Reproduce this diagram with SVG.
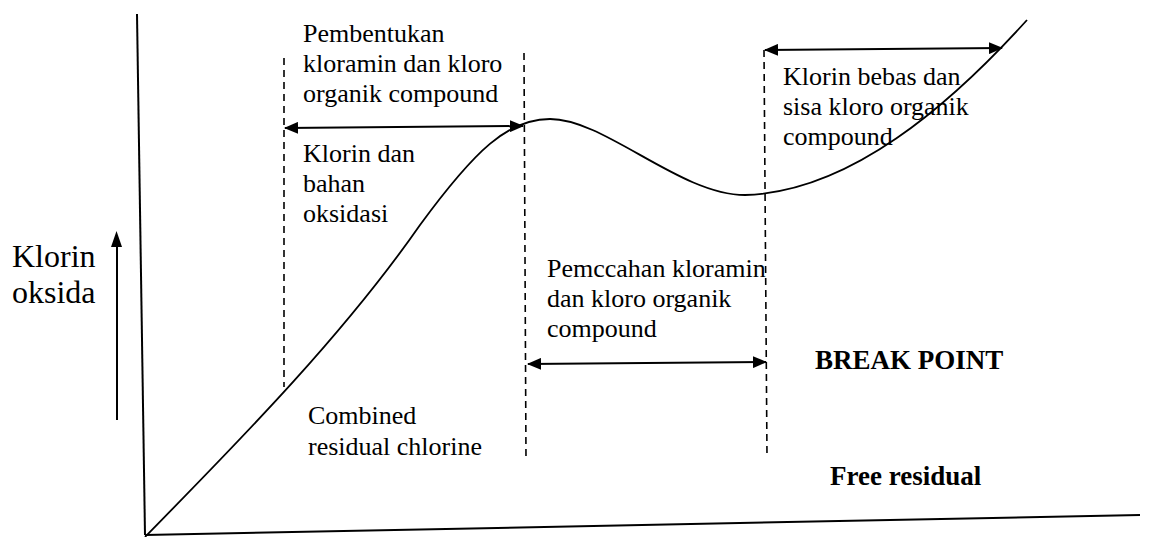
<svg xmlns="http://www.w3.org/2000/svg" width="1160" height="537" viewBox="0 0 1160 537">
<defs>
<marker id="ah" viewBox="0 0 14 12" refX="13" refY="6" markerWidth="14" markerHeight="12" markerUnits="userSpaceOnUse" orient="auto-start-reverse">
<path d="M0,0 L14,6 L0,12 Z" fill="#000"/>
</marker>
</defs>
<g id="axes" stroke="#000" stroke-width="2" fill="none">
<line x1="137" y1="14" x2="145" y2="535"/>
<line x1="145" y1="535" x2="1140" y2="515"/>
</g>
<g id="curve">
<path stroke="#000" stroke-width="1.8" fill="none" d="M145,537 C230,450 340,340 420,225 C475,150 508,119 550,119 C605,119 680,195 745,195 C850,192 950,105 1027,20"/>
</g>
<g id="connectors">
<g stroke="#000" stroke-width="1.6" stroke-dasharray="7 5" fill="none">
<line x1="284" y1="58" x2="284" y2="387"/>
<line x1="524" y1="53" x2="526" y2="460"/>
<line x1="764" y1="50" x2="767" y2="457"/>
</g>
<g stroke="#000" stroke-width="2" fill="none" marker-start="url(#ah)" marker-end="url(#ah)">
<line x1="285" y1="128" x2="523" y2="126"/>
<line x1="528" y1="364" x2="766" y2="362"/>
<line x1="765" y1="50" x2="1002" y2="48"/>
</g>
<line stroke="#000" stroke-width="2" x1="117" y1="420" x2="117" y2="240"/>
<path d="M111,247 L116.5,231 L122,247 Z" fill="#000"/>
</g>
<g id="label-yaxis">
<text font-family="Liberation Serif" font-size="32" x="12" y="267">Klorin</text>
<text font-family="Liberation Serif" font-size="32" x="12" y="303">oksida</text>
</g>
<g id="label-pembentukan">
<text font-family="Liberation Serif" font-size="26" x="303" y="42">Pembentukan</text>
<text font-family="Liberation Serif" font-size="26" x="303" y="72">kloramin dan kloro</text>
<text font-family="Liberation Serif" font-size="26" x="303" y="102">organik compound</text>
</g>
<g id="label-klorin-dan">
<text font-family="Liberation Serif" font-size="26" x="303" y="162">Klorin dan</text>
<text font-family="Liberation Serif" font-size="26" x="303" y="192">bahan</text>
<text font-family="Liberation Serif" font-size="26" x="303" y="222">oksidasi</text>
</g>
<g id="label-combined">
<text font-family="Liberation Serif" font-size="26" x="308" y="424">Combined</text>
<text font-family="Liberation Serif" font-size="26" x="308" y="455">residual chlorine</text>
</g>
<g id="label-pemecahan">
<text font-family="Liberation Serif" font-size="26" x="547" y="277">Pemccahan kloramin</text>
<text font-family="Liberation Serif" font-size="26" x="547" y="307">dan kloro organik</text>
<text font-family="Liberation Serif" font-size="26" x="547" y="337">compound</text>
</g>
<g id="label-klorin-bebas">
<text font-family="Liberation Serif" font-size="26" x="783" y="85">Klorin bebas dan</text>
<text font-family="Liberation Serif" font-size="26" x="783" y="115">sisa kloro organik</text>
<text font-family="Liberation Serif" font-size="26" x="783" y="145">compound</text>
</g>
<g id="label-breakpoint">
<text font-family="Liberation Serif" font-size="27" font-weight="bold" x="815" y="369">BREAK POINT</text>
</g>
<g id="label-free">
<text font-family="Liberation Serif" font-size="27" font-weight="bold" x="830" y="485">Free residual</text>
</g>
</svg>
